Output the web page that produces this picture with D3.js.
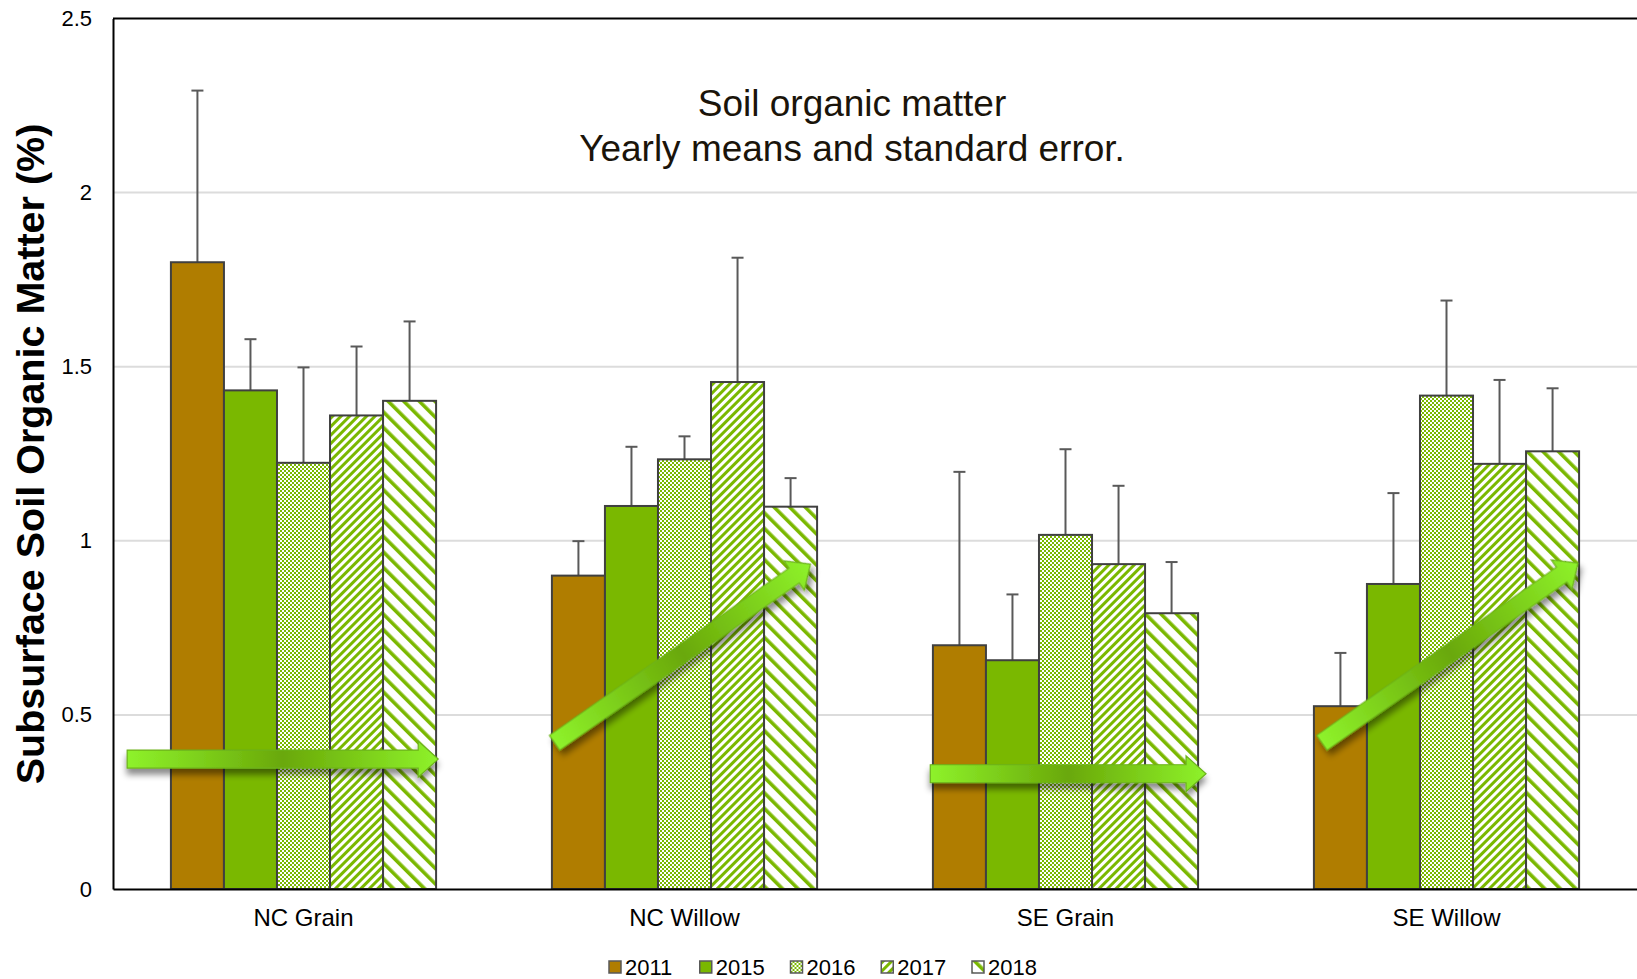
<!DOCTYPE html>
<html>
<head>
<meta charset="utf-8">
<script src="https://cdn.jsdelivr.net/npm/d3@7"></script>
<style>
  body { margin: 0; background: #fff; }
  text { font-family: "Liberation Sans", Arial, sans-serif; }
</style>
</head>
<body>
<svg id="chart" width="1637" height="979"></svg>
<script>
// data
var categories = ["NC Grain", "NC Willow", "SE Grain", "SE Willow"];
var years = ["2011", "2015", "2016", "2017", "2018"];
// yearly means, one array per year (in category order)
var mean2011 = [1.80, 0.90, 0.70, 0.525];
var mean2015 = [1.432, 1.10, 0.657, 0.876];
var mean2016 = [1.224, 1.234, 1.017, 1.417];
var mean2017 = [1.36, 1.456, 0.933, 1.221];
var mean2018 = [1.402, 1.098, 0.792, 1.257];
// standard errors
var se2011 = [0.493, 0.099, 0.498, 0.153];
var se2015 = [0.147, 0.170, 0.189, 0.261];
var se2016 = [0.274, 0.066, 0.246, 0.273];
var se2017 = [0.198, 0.357, 0.225, 0.241];
var se2018 = [0.228, 0.082, 0.147, 0.181];
var yTicks = [0, 0.5, 1, 1.5, 2, 2.5];
// trend arrows: category, start/end as fraction of group width, start/end value
var arrows = [
  {cat: "NC Grain", f0: -0.165, v0: 0.373, f1: 1.008, v1: 0.373},
  {cat: "NC Willow", f0: 0.01, v0: 0.42, f1: 0.975, v1: 0.933},
  {cat: "SE Grain", f0: -0.01, v0: 0.331, f1: 1.03, v1: 0.331},
  {cat: "SE Willow", f0: 0.03, v0: 0.42, f1: 0.996, v1: 0.936}
];

var means = [mean2011, mean2015, mean2016, mean2017, mean2018];
var ses = [se2011, se2015, se2016, se2017, se2018];

var rows = [];
categories.forEach(function(c, ci) {
  years.forEach(function(y, yi) {
    rows.push({cat: c, year: y, mean: means[yi][ci], se: ses[yi][ci]});
  });
});

var svg = d3.select("#chart");
var green = "#7ab800";

var x = d3.scaleBand().domain(categories).range([113, 1637])
  .paddingInner(0.304).paddingOuter(0.152);
var xi = d3.scaleBand().domain(years).range([0, x.bandwidth()]);
var y = d3.scaleLinear().domain([0, 2.5]).range([889, 18.5]);

var defs = svg.append("defs");

// fill patterns
var p16 = defs.append("pattern").attr("id", "p2016")
  .attr("patternUnits", "userSpaceOnUse").attr("width", 4).attr("height", 4);
p16.append("rect").attr("width", 4).attr("height", 4).attr("fill", green);
p16.append("rect").attr("width", 2).attr("height", 2).attr("fill", "#fff");
p16.append("rect").attr("x", 2).attr("y", 2).attr("width", 2).attr("height", 2).attr("fill", "#fff");

var p17 = defs.append("pattern").attr("id", "p2017")
  .attr("patternUnits", "userSpaceOnUse").attr("width", 6).attr("height", 6)
  .attr("patternTransform", "rotate(45)");
p17.append("rect").attr("width", 6).attr("height", 6).attr("fill", "#fff");
p17.append("rect").attr("width", 3).attr("height", 6).attr("fill", green);

var p18 = defs.append("pattern").attr("id", "p2018")
  .attr("patternUnits", "userSpaceOnUse").attr("width", 11).attr("height", 11)
  .attr("patternTransform", "rotate(-45)");
p18.append("rect").attr("width", 11).attr("height", 11).attr("fill", "#fff");
p18.append("rect").attr("width", 3.6).attr("height", 11).attr("fill", green);

var fills = d3.scaleOrdinal().domain(years)
  .range(["#b07d00", green, "url(#p2016)", "url(#p2017)", "url(#p2018)"]);

// arrow gradient + shadow
var grad = defs.append("linearGradient").attr("id", "arrowGrad")
  .attr("x1", "0%").attr("x2", "100%").attr("y1", "0%").attr("y2", "0%");
grad.append("stop").attr("offset", "0%").attr("stop-color", "#8ef22b");
grad.append("stop").attr("offset", "50%").attr("stop-color", "#6aa808");
grad.append("stop").attr("offset", "100%").attr("stop-color", "#8ef22b");

var shadow = defs.append("filter").attr("id", "shadow")
  .attr("x", "-20%").attr("y", "-50%").attr("width", "140%").attr("height", "250%");
shadow.append("feDropShadow").attr("dx", 0).attr("dy", 6)
  .attr("stdDeviation", 3).attr("flood-color", "#000").attr("flood-opacity", 0.45);

// gridlines
svg.append("g").selectAll("line")
  .data(yTicks.filter(function(d) { return d > 0 && d < 2.5; }))
  .enter().append("line")
  .attr("x1", 113).attr("x2", 1637)
  .attr("y1", function(d) { return y(d); })
  .attr("y2", function(d) { return y(d); })
  .attr("stroke", "#dcdcdc").attr("stroke-width", 2);

// top frame line
svg.append("line").attr("x1", 113).attr("x2", 1637)
  .attr("y1", y(2.5)).attr("y2", y(2.5))
  .attr("stroke", "#000").attr("stroke-width", 2);

// y axis
var yAxis = svg.append("g").attr("transform", "translate(113,0)")
  .call(d3.axisLeft(y).tickValues(yTicks).tickSize(0).tickPadding(21)
    .tickFormat(function(d) { return d3.format("")(d); }));
yAxis.select(".domain").attr("stroke", "#000").attr("stroke-width", 2);
yAxis.selectAll("text").style("font-size", "22px").attr("fill", "#000")
  .attr("font-family", "Liberation Sans, Arial, sans-serif");

// error bars
var eb = svg.append("g").selectAll("g").data(rows).enter().append("g")
  .attr("transform", function(d) {
    return "translate(" + (x(d.cat) + xi(d.year) + xi.bandwidth() / 2) + ",0)";
  });
eb.append("line").attr("x1", 0).attr("x2", 0)
  .attr("y1", function(d) { return y(d.mean); })
  .attr("y2", function(d) { return y(d.mean + d.se); })
  .attr("stroke", "#595959").attr("stroke-width", 2);
eb.append("line").attr("x1", -6).attr("x2", 6)
  .attr("y1", function(d) { return y(d.mean + d.se); })
  .attr("y2", function(d) { return y(d.mean + d.se); })
  .attr("stroke", "#595959").attr("stroke-width", 2);

// bars
svg.append("g").selectAll("rect").data(rows).enter().append("rect")
  .attr("x", function(d) { return x(d.cat) + xi(d.year); })
  .attr("y", function(d) { return y(d.mean); })
  .attr("width", xi.bandwidth())
  .attr("height", function(d) { return y(0) - y(d.mean); })
  .attr("fill", function(d) { return fills(d.year); })
  .attr("stroke", "#404040").attr("stroke-width", 2);

// x axis
var xAxis = svg.append("g").attr("transform", "translate(0," + y(0) + ")")
  .call(d3.axisBottom(x).tickSize(0).tickPadding(20));
xAxis.select(".domain").attr("stroke", "#000").attr("stroke-width", 2);
xAxis.selectAll("text").style("font-size", "24px").attr("fill", "#000")
  .attr("font-family", "Liberation Sans, Arial, sans-serif");

// trend arrows
var ag = svg.append("g").selectAll("g").data(arrows).enter().append("g")
  .attr("filter", "url(#shadow)")
  .attr("transform", function(d) {
    var x0 = x(d.cat) + d.f0 * x.bandwidth(), y0 = y(d.v0);
    var x1 = x(d.cat) + d.f1 * x.bandwidth(), y1 = y(d.v1);
    var ang = Math.atan2(y1 - y0, x1 - x0) * 180 / Math.PI;
    return "translate(" + x0 + "," + y0 + ") rotate(" + ang + ")";
  });
ag.append("path")
  .attr("d", function(d) {
    var x0 = x(d.cat) + d.f0 * x.bandwidth(), y0 = y(d.v0);
    var x1 = x(d.cat) + d.f1 * x.bandwidth(), y1 = y(d.v1);
    var L = Math.hypot(x1 - x0, y1 - y0), h = 20, s = 9, w = 18;
    return "M0," + (-s) + "L" + (L - h) + "," + (-s) + "L" + (L - h) + "," + (-w) +
      "L" + L + ",0L" + (L - h) + "," + w + "L" + (L - h) + "," + s + "L0," + s + "Z";
  })
  .attr("fill", "url(#arrowGrad)")
  .attr("stroke", "#6cb21c").attr("stroke-width", 1.2);

// title
var title = svg.append("text").attr("x", 852).attr("y", 116)
  .attr("text-anchor", "middle").attr("fill", "#1a140a")
  .style("font-size", "37px");
title.append("tspan").attr("x", 852).text("Soil organic matter");
title.append("tspan").attr("x", 852).attr("dy", 45).text("Yearly means and standard error.");

// y label
svg.append("text")
  .attr("transform", "translate(44," + 454 + ") rotate(-90)")
  .attr("text-anchor", "middle")
  .style("font-size", "39.5px").style("font-weight", "bold").attr("fill", "#000")
  .text("Subsurface Soil Organic Matter (%)");

// legend
var lx = d3.scalePoint().domain(years).range([609, 972]);
var leg = svg.append("g").selectAll("g").data(years).enter().append("g")
  .attr("transform", function(d) { return "translate(" + lx(d) + ",961)"; });
leg.append("rect").attr("width", 12).attr("height", 12)
  .attr("fill", function(d) { return fills(d); })
  .attr("stroke", "#595959").attr("stroke-width", 1.5);
leg.append("text").attr("x", 16).attr("y", 13.5)
  .style("font-size", "22px").attr("fill", "#000")
  .text(function(d) { return d; });
</script>
</body>
</html>
